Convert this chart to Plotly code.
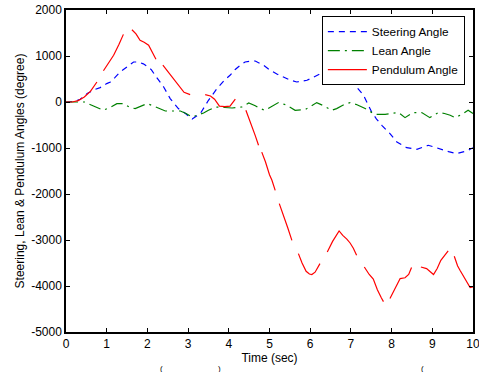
import plotly.graph_objects as go

# Steering angle (blue dashed)
t_steer = [0, 0.2, 0.35, 0.52, 0.7, 0.84, 1.0, 1.09, 1.2, 1.33, 1.5, 1.66, 1.78, 1.9, 1.99, 2.1,
           2.19, 2.3, 2.40, 2.56, 2.76, 2.95, 3.10, 3.30, 3.50, 3.71, 3.9, 4.03, 4.15, 4.28, 4.40,
           4.55, 4.65, 4.85, 5.02, 5.18, 5.34, 5.5, 5.67, 5.8, 5.92, 6.08, 6.24, 6.4, 6.6, 6.82,
           6.98, 7.06, 7.14, 7.31, 7.51, 7.63, 7.76, 7.96, 8.13, 8.37, 8.62, 8.78, 8.90, 9.05,
           9.23, 9.4, 9.60, 9.75, 9.85, 10]
steer = [0, 10, 60, 183, 270, 313, 400, 435, 530, 652, 761, 870, 870, 830, 776, 700,
         580, 450, 326, 74, -143, -260, -370, -252, 37, 291, 480, 580, 700, 798, 870,
         890, 891, 800, 689, 610, 543, 480, 435, 450, 472, 540, 617, 680, 740, 689,
         543, 400, 326, 146, -217, -370, -507, -688, -870, -993, -1028, -978, -941, -980,
         -1035, -1080, -1122, -1090, -1065, -993]

# Lean angle (green dash-dot)
t_lean = [0, 0.2, 0.35, 0.47, 0.55, 0.65, 0.80, 0.92, 1.1, 1.25, 1.41, 1.58, 1.70, 1.85, 1.99,
          2.11, 2.3, 2.44, 2.6, 2.81, 2.95, 3.10, 3.22, 3.38, 3.5, 3.67, 3.9, 4.08, 4.32, 4.49,
          4.65, 4.77, 4.89, 5.05, 5.22, 5.4, 5.63, 5.88, 6.16, 6.35, 6.53, 6.65, 6.8, 6.98,
          7.15, 7.35, 7.59, 7.84, 8.0, 8.17, 8.33, 8.53, 8.74, 8.94, 9.15, 9.3, 9.44, 9.56,
          9.7, 9.88, 10]
lean = [0, 5, 10, 0, -40, -80, -130, -180, -110, -35, -35, -122, -143, -80, -35,
        -72, -150, -196, -196, -196, -250, -326, -289, -239, -180, -109, -120, -130, -109, -22,
        -80, -143, -180, -90, -13, -60, -180, -165, -13, -90, -180, -143, -70, -13,
        -60, -143, -267, -267, -250, -230, -340, -230, -230, -340, -230, -250, -289, -340,
        -280, -180, -252]

# Pendulum angle (red solid, broken into segments; None marks a gap)
t_pend = [0, 0.15, 0.3, 0.45, 0.6, 0.68, 0.76, None,
          0.92, 1.0, 1.17, 1.3, 1.41, None,
          1.62, 1.72, 1.82, 1.92, 2.03, 2.12, 2.21, None,
          2.38, 2.5, 2.66, 2.8, 2.9, 3.05, None,
          3.42, 3.55, 3.65, 3.77, 3.9, 4.03, 4.16, None,
          4.42, 4.55, 4.65, 4.73, None,
          4.81, 4.90, 5.0, 5.06, 5.14, None,
          5.24, 5.35, 5.45, 5.55, None,
          5.71, 5.8, 5.90, 5.98, 6.04, 6.12, 6.24, None,
          6.42, 6.55, 6.71, 6.8, 6.9, 6.98, 7.06, 7.14, None,
          7.33, 7.45, 7.55, 7.65, 7.75, 7.80, None,
          7.96, 8.08, 8.21, 8.33, 8.42, 8.49, None,
          8.72, 8.86, 8.95, 9.03, 9.12, 9.21, 9.39, None,
          9.54, 9.62, 9.68, 9.8, 9.93, 10]
pend = [0, 0, 30, 110, 230, 326, 435, None,
        680, 780, 1015, 1250, 1470, None,
        1570, 1480, 1341, 1300, 1233, 1080, 930, None,
        800, 660, 470, 300, 210, 160, None,
        161, 130, 60, -90, -100, -90, 60, None,
        -180, -470, -730, -940, None,
        -1090, -1300, -1580, -1700, -1920, None,
        -2210, -2470, -2740, -3007, None,
        -3296, -3500, -3680, -3740, -3752, -3700, -3513, None,
        -3261, -3030, -2804, -2900, -2980, -3065, -3180, -3333, None,
        -3587, -3750, -3850, -4080, -4260, -4340, None,
        -4274, -4050, -3839, -3822, -3750, -3600, None,
        -3587, -3622, -3690, -3750, -3620, -3441, -3239, None,
        -3354, -3560, -3659, -3850, -4035, -4022]

x_ticks = list(range(0, 11))
y_ticks = list(range(-5000, 2001, 1000))

font_family = "Liberation Sans, Arial, sans-serif"

fig = go.Figure()
fig.add_trace(go.Scatter(x=t_steer, y=steer, mode="lines", name="Steering Angle",
                         line=dict(color="#0000ff", width=1.2, dash="6px,5px")))
fig.add_trace(go.Scatter(x=t_lean, y=lean, mode="lines", name="Lean Angle",
                         line=dict(color="#008000", width=1.2, dash="12px,5px,2px,5px")))
fig.add_trace(go.Scatter(x=t_pend, y=pend, mode="lines", name="Pendulum Angle",
                         connectgaps=False,
                         line=dict(color="#ff0000", width=1.2)))

axis_common = dict(
    showgrid=False, zeroline=False, showline=True, linecolor="black", linewidth=1.5,
    mirror="allticks", ticks="inside", ticklen=4, tickwidth=1, tickcolor="black",
    tickfont=dict(family=font_family, size=12, color="black"), automargin=False,
    ticklabeloverflow="allow",
)

fig.update_layout(
    width=479, height=372,
    margin=dict(l=66, r=6, t=10, b=40),
    paper_bgcolor="white", plot_bgcolor="white",
    font=dict(family=font_family, size=12, color="black"),
    xaxis=dict(range=[0, 10], tickvals=x_ticks, ticktext=[str(v) for v in x_ticks],
               title=dict(text="Time (sec)", standoff=2, font=dict(size=12)),
               **axis_common),
    yaxis=dict(range=[-5000, 2000], tickvals=y_ticks, ticktext=[str(v) for v in y_ticks],
               title=dict(text="Steering, Lean & Pendulum Angles (degree)", standoff=4,
                          font=dict(size=12)),
               **axis_common),
    legend=dict(x=0.98, y=0.981, xanchor="right", yanchor="top",
                bgcolor="white", bordercolor="black", borderwidth=1,
                font=dict(family=font_family, size=11.8), itemwidth=39,
                tracegroupgap=0),
    showlegend=True,
)

for xp, txt in [(0.235, "("), (0.378, ")"), (0.875, "(")]:
    fig.add_annotation(x=xp, y=-0.092, xref="paper", yref="paper", text=txt,
                       showarrow=False, xanchor="center", yanchor="top",
                       font=dict(family=font_family, size=8, color="black"))

fig.write_html("out.html")
